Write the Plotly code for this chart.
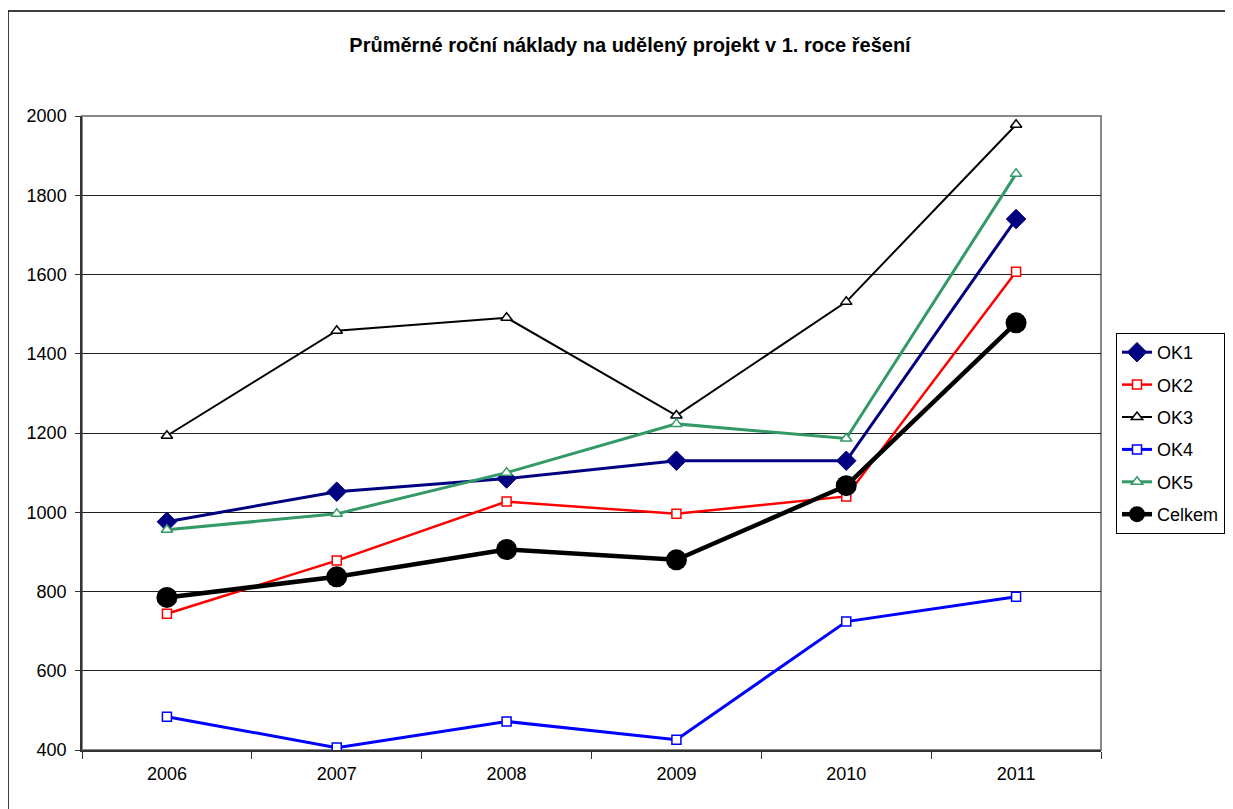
import plotly.graph_objects as go

years = ["2006", "2007", "2008", "2009", "2010", "2011"]
ok1 = [976, 1052, 1085, 1130, 1130, 1740]
ok2 = [744, 878, 1027, 996, 1040, 1607]
ok3 = [1193, 1458, 1491, 1244, 1531, 1978]
ok4 = [484, 406, 472, 426, 724, 787]
ok5 = [956, 996, 1100, 1223, 1186, 1854]
celkem = [785, 837, 906, 880, 1067, 1478]

series = [
    ("OK1", ok1, "#000080", 3, dict(symbol="diamond", size=15, color="#000080", line=dict(color="#000080", width=1))),
    ("OK2", ok2, "#FF0000", 2.5, dict(symbol="square", size=9, color="white", line=dict(color="#FF0000", width=1.5))),
    ("OK3", ok3, "#000000", 2, dict(symbol="triangle-up", size=10, color="white", line=dict(color="#000000", width=1.5))),
    ("OK4", ok4, "#0000FF", 3, dict(symbol="square", size=9, color="white", line=dict(color="#0000FF", width=1.5))),
    ("OK5", ok5, "#339966", 3, dict(symbol="triangle-up", size=10, color="white", line=dict(color="#339966", width=1.5))),
    ("Celkem", celkem, "#000000", 4.5, dict(symbol="circle", size=21, color="#000000", line=dict(color="#000000", width=0))),
]

fig = go.Figure()
for name, vals, col, lw, mk in series:
    fig.add_trace(go.Scatter(
        x=years, y=vals, name=name, mode="lines+markers",
        line=dict(color=col, width=lw), marker=mk, legendgroup=name,
    ))

# page is drawn with an 8px body offset
OFF = 8
W, H = 1233, 809
L, R, T, B = 82 - OFF, 132 + OFF, 116 - OFF, 59 + OFF
pw = W - L - R
ph = H - T - B

def px_x(p):
    return (p - OFF - L) / pw

def px_y(p):
    return (H - B - (p - OFF)) / ph

font = "Liberation Sans, Arial, sans-serif"

fig.update_layout(
    width=W, height=H,
    margin=dict(l=L, r=R, t=T, b=B),
    paper_bgcolor="white", plot_bgcolor="white",
    font=dict(family=font, size=18, color="black"),
    title=dict(text="<b>Průměrné roční náklady na udělený projekt v 1. roce řešení</b>",
               x=(630 - OFF) / W, xref="container", xanchor="center",
               y=1 - (45 - OFF) / H, yref="container", yanchor="middle",
               font=dict(family=font, size=20, color="black")),
    xaxis=dict(type="category", range=[-0.5, 5.5], tickson="boundaries",
               ticks="outside", ticklen=7, tickcolor="#333", tickwidth=1,
               showline=True, linecolor="#333", linewidth=2,
               showgrid=False, zeroline=False, ticklabelstandoff=6,
               tickfont=dict(size=18)),
    yaxis=dict(range=[400, 2000], dtick=200, tick0=400,
               ticks="outside", ticklen=5, tickcolor="#333",
               showline=True, linecolor="#333", linewidth=1.5,
               showgrid=True, gridcolor="#222", gridwidth=1,
               zeroline=False, ticklabelstandoff=5,
               tickfont=dict(size=18)),
    legend=dict(x=px_x(1116), xanchor="left", y=px_y(333), yanchor="top",
                bordercolor="black", borderwidth=1, bgcolor="white",
                font=dict(family=font, size=18, color="black"),
                tracegroupgap=6, itemwidth=30),
    showlegend=True,
    shapes=[
        dict(type="rect", xref="paper", yref="paper",
             x0=0, x1=1, y0=0, y1=1,
             line=dict(color="#888", width=2), layer="below"),
        dict(type="rect", xref="paper", yref="paper",
             x0=px_x(8), x1=px_x(1260), y0=px_y(840), y1=px_y(11),
             line=dict(color="black", width=1.5), layer="below"),
    ],
)

fig.write_html("out.html")
